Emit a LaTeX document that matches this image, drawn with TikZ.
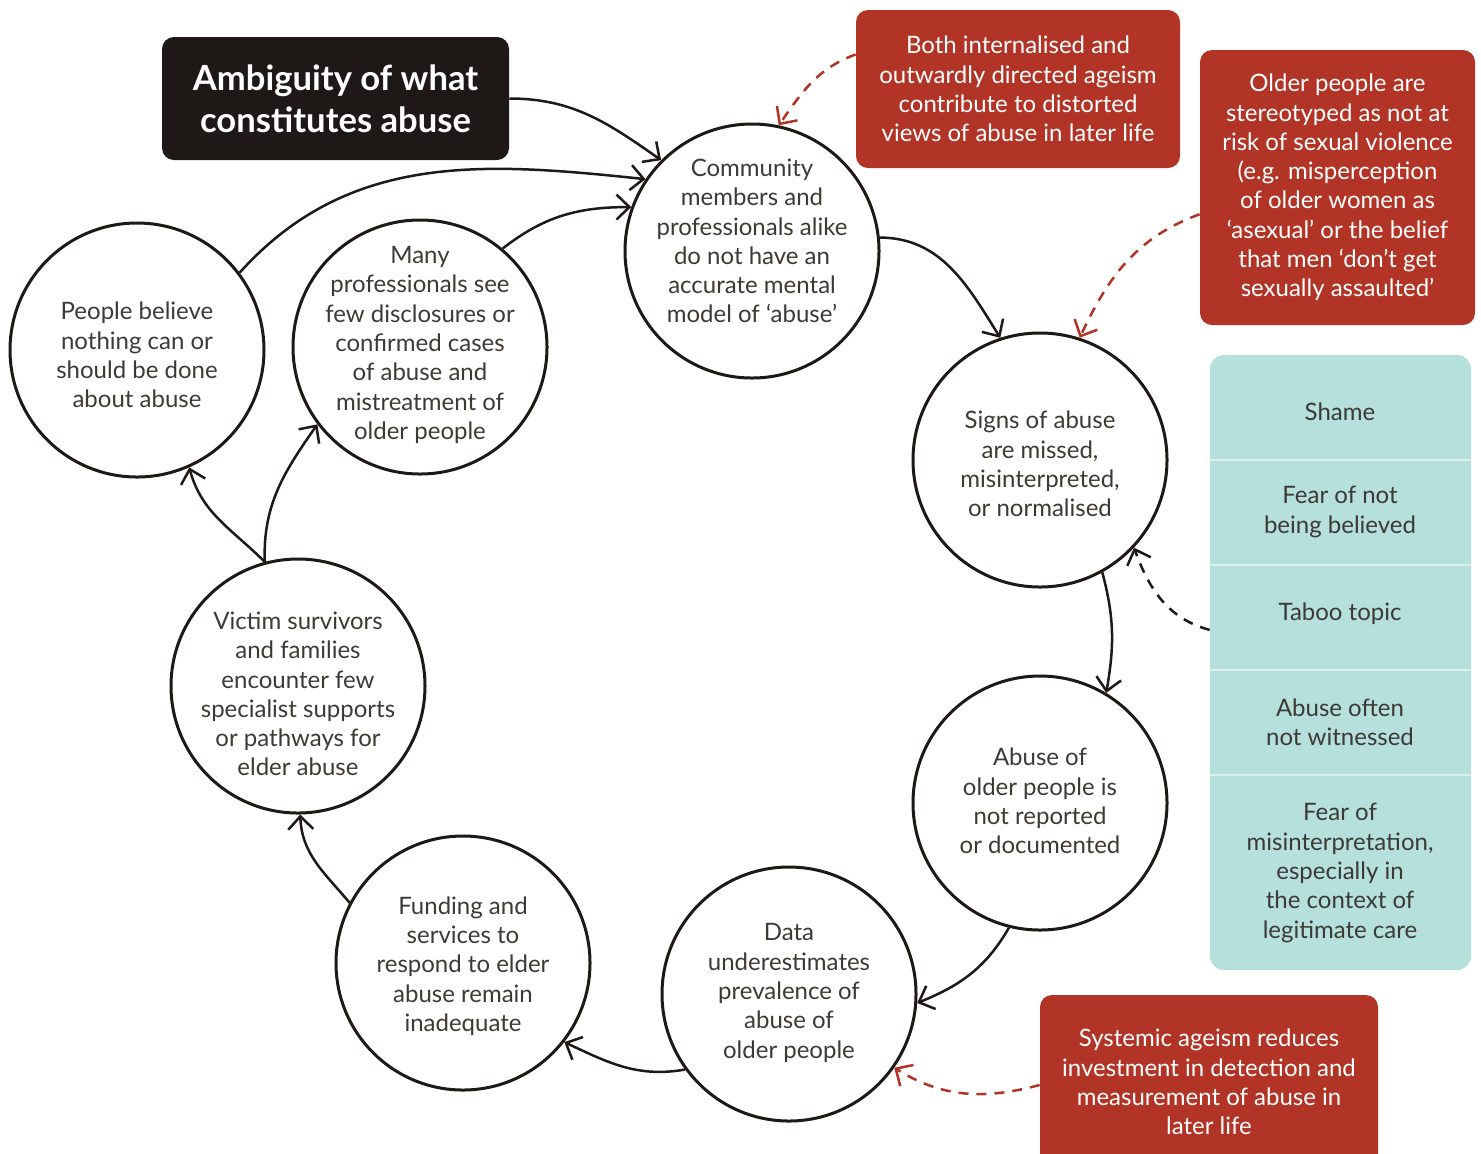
\documentclass[tikz,border=0pt]{standalone}
\usepackage{fontspec}
\setmainfont{Lato}
\usetikzlibrary{arrows.meta}
\definecolor{txt}{HTML}{3D3935}
\definecolor{redbox}{HTML}{B23426}
\definecolor{tealbox}{HTML}{B5E0DC}
\definecolor{blackbox}{HTML}{1E1917}
\definecolor{divline}{HTML}{DDF0EE}
\begin{document}
\begin{tikzpicture}[x=0.5pt,y=-0.5pt,
  circ/.style={circle, draw=blackbox, line width=1.5pt, minimum size=127pt, inner sep=0pt},
  ctext/.style={align=center, text=txt, inner sep=0pt, font=\fontsize{12}{14.65}\selectfont},
  conn/.style={draw=blackbox, line width=1.25pt, -{Straight Barb[length=6.5pt,width=12.5pt,line width=1.25pt]}},
  dconn/.style={conn, dash pattern=on 5pt off 4pt},
  rconn/.style={dconn, draw=redbox, -{Straight Barb[length=6.5pt,width=12.5pt,line width=1.25pt,color=redbox]}},
  rbox/.style={fill=redbox, rounded corners=6pt, align=center, text=white, inner sep=0pt, font=\fontsize{12}{14.65}\selectfont},
  titem/.style={align=center, text=txt, font=\fontsize{12}{14.65}\selectfont},
]
\useasboundingbox (0,0) rectangle (1481,1153);

% circles
\node[circ] (c1) at (752,251) {};
\node[circ] (c2) at (1040,460) {};
\node[circ] (c3) at (1040,803) {};
\node[circ] (c4) at (789,994) {};
\node[circ] (c5) at (463,963) {};
\node[circ] (c6) at (298,686) {};
\node[circ] (c7) at (137,350) {};
\node[circ] (c8) at (420,347) {};

\node[ctext] (c1t) at (752,241) {Community\\members and\\professionals alike\\do not have an\\accurate mental\\model of ‘abuse’};
\node[ctext] (c2t) at (1040,464) {Signs of abuse\\are missed,\\misinterpreted,\\or normalised};
\node[ctext] (c3t) at (1040,801) {Abuse of\\older people is\\not reported\\or documented};
\node[ctext] (c4t) at (789,993) {Data\\underestimates\\prevalence of\\abuse of\\older people};
\node[ctext] (c5t) at (463,966) {Funding and\\services to\\respond to elder\\abuse remain\\inadequate};
\node[ctext] (c6t) at (298,694) {Victim survivors\\and families\\encounter few\\specialist supports\\or pathways for\\elder abuse};
\node[ctext] (c7t) at (137,355) {People believe\\nothing can or\\should be done\\about abuse};
\node[ctext] (c8t) at (420,345) {Many\\professionals see\\few disclosures or\\confirmed cases\\of abuse and\\mistreatment of\\older people};

% boxes
\node[fill=blackbox, rounded corners=6pt, minimum width=173.5pt, minimum height=61.5pt, inner sep=0pt, align=center, text=white, font=\fontsize{17.3}{21}\selectfont\bfseries] (title) at (335.5,98.5) {Ambiguity of what\\constitutes abuse};
\node[rbox, minimum width=162pt, minimum height=79pt] (r1) at (1018,89) {Both internalised and\\outwardly directed ageism\\contribute to distorted\\views of abuse in later life};
\node[rbox, minimum width=137.5pt, minimum height=137.5pt] (r2) at (1337.5,187.5) {Older people are\\stereotyped as not at\\risk of sexual violence\\(e.g. misperception\\of older women as\\‘asexual’ or the belief\\that men ‘don’t get\\sexually assaulted’};
\node[rbox, minimum width=169pt, minimum height=87pt] (r3) at (1209,1082) {Systemic ageism reduces\\investment in detection and\\measurement of abuse in\\later life};

\node[fill=tealbox, rounded corners=7pt, minimum width=130.5pt, minimum height=307.5pt, inner sep=0pt] (teal) at (1340.5,662.5) {};
\foreach \yy in {460,565,670,775} \draw[divline, line width=1pt] (1210,\yy) -- (1471,\yy);
\node[titem] (t1) at (1340,412) {Shame};
\node[titem] (t2) at (1340,512) {Fear of not\\being believed};
\node[titem] (t3) at (1340,614) {Taboo topic};
\node[titem] (t4) at (1340,722) {Abuse often\\not witnessed};
\node[titem] (t5) at (1340,873) {Fear of\\misinterpretation,\\especially in\\the context of\\legitimate care};

% connectors
\draw[conn] (title.east) to[out=0, in=145] (c1.135);
\draw[conn] (c7.37) to[out=48, in=174] (c1.146);
\draw[conn] (c8.50) to[out=38, in=180] (c1.160);
\draw[conn] (c1.6) to[out=0, in=122] (c2.108);
\draw[conn] (c2.-61) to[out=-75, in=80] (c3.59);
\draw[conn] (c3.-104) to[out=-120, in=22] (c4.-4);
\draw[conn] (c4.216) to[out=190, in=-25] (c5.-38);
\draw[conn] (c5.152) to[out=130, in=-88] (c6.-89);
\draw[conn] (c6.105) to[out=135, in=-75] (c7.-66);
\draw[conn] (c6.105) to[out=92, in=-125] (c8.217);

\draw[rconn] (r1.168) to[out=200, in=55] (c1.78);
\draw[rconn] (r2.191) to[out=200, in=65] (c2.72);
\draw[dconn] (teal.166) to[out=165, in=-70] (c2.-43);
\draw[rconn] (r3.181) to[out=195, in=-32] (c4.-35);
\end{tikzpicture}
\end{document}
